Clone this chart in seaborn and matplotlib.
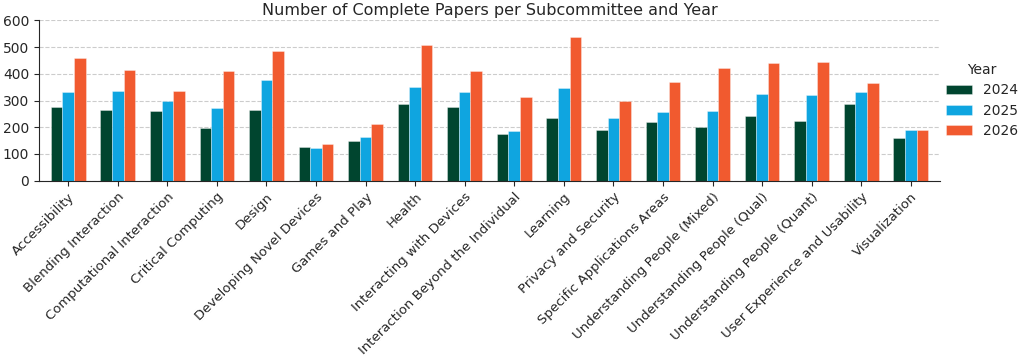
import matplotlib
matplotlib.use("Agg")
import matplotlib.pyplot as plt
import seaborn as sns
import pandas as pd

subcommittees = [
    "Accessibility", "Blending Interaction", "Computational Interaction",
    "Critical Computing", "Design", "Developing Novel Devices",
    "Games and Play", "Health", "Interacting with Devices",
    "Interaction Beyond the Individual", "Learning", "Privacy and Security",
    "Specific Applications Areas", "Understanding People (Mixed)",
    "Understanding People (Qual)", "Understanding People (Quant)",
    "User Experience and Usability", "Visualization",
]
years = ["2024", "2025", "2026"]
papers_2024 = [274, 264, 261, 196, 265, 127, 147, 286, 277, 174, 236, 190, 219, 201, 241, 225, 288, 159]
papers_2025 = [331, 335, 299, 271, 376, 122, 164, 352, 331, 187, 346, 236, 257, 259, 326, 319, 331, 190]
papers_2026 = [459, 416, 336, 411, 486, 136, 212, 509, 410, 314, 539, 299, 370, 421, 439, 443, 365, 190]
palette = ["#00452F", "#0FA5E0", "#F15A2F"]

rows = []
for year, vals in zip(years, [papers_2024, papers_2025, papers_2026]):
    for name, v in zip(subcommittees, vals):
        rows.append({"Subcommittee": name, "Year": year, "Papers": v})
df = pd.DataFrame(rows)

sns.set_style("ticks")
fig, ax = plt.subplots(figsize=(10.24, 3.59), dpi=100)
sns.barplot(data=df, x="Subcommittee", y="Papers", hue="Year",
            palette=palette, saturation=1, width=0.7,
            edgecolor=(1, 1, 1, 0.4), linewidth=0.6, ax=ax)

ax.set_ylim(0, 600)
ax.set_xlim(-0.59, len(subcommittees) - 0.41)
ax.set_yticks(range(0, 601, 100))
ax.yaxis.grid(True, linestyle="--", color="#cccccc", linewidth=0.8)
ax.set_axisbelow(True)
ax.set_xlabel("")
ax.set_ylabel("")
ax.set_title("Number of Complete Papers per Subcommittee and Year", fontsize=11.5, pad=4)
plt.setp(ax.get_xticklabels(), rotation=45, ha="right", rotation_mode="anchor", fontsize=9.5)
ax.tick_params(axis="y", labelsize=10)
sns.despine(ax=ax)

ax.legend(title="Year", frameon=False, loc="center left", bbox_to_anchor=(1.0, 0.5),
          borderaxespad=0.0, borderpad=0.4, fontsize=10, title_fontsize=10,
          handlelength=1.9, handletextpad=0.8, labelspacing=0.45)

fig.subplots_adjust(left=0.038, right=0.918, top=0.943, bottom=0.497)
fig.savefig("out.png", dpi=100)
